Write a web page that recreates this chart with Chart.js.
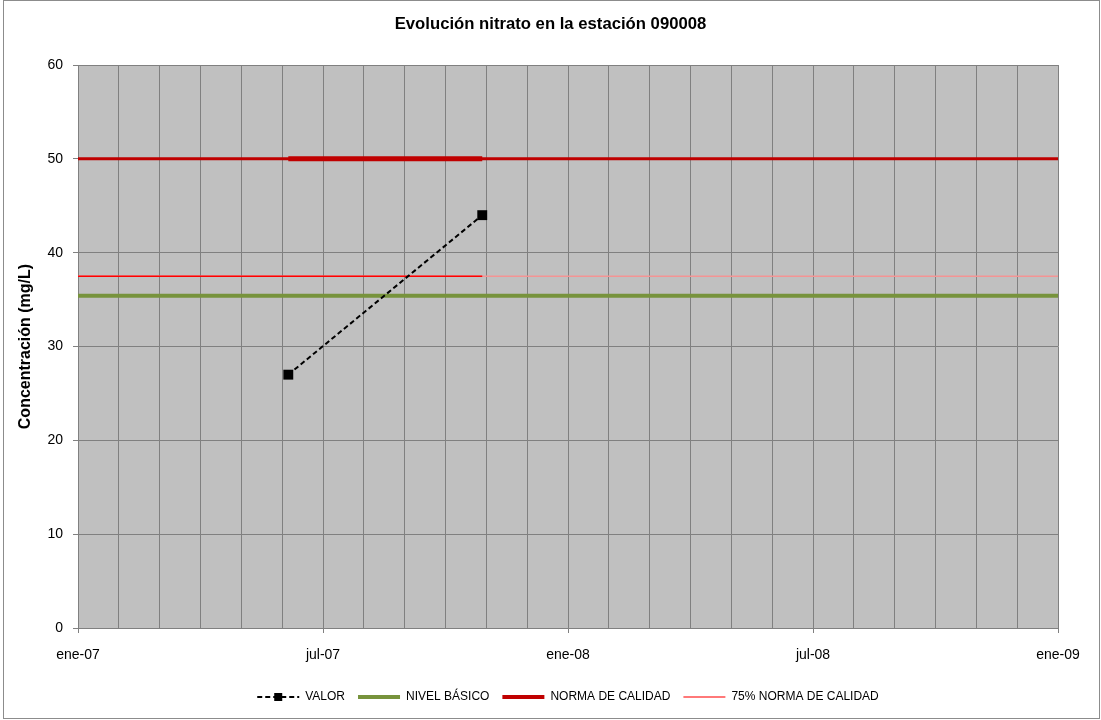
<!DOCTYPE html>
<html>
<head>
<meta charset="utf-8">
<script src="https://cdn.jsdelivr.net/npm/chart.js@4/dist/chart.umd.min.js"></script>
<style>
  html, body { margin: 0; padding: 0; background: #fff; }
  #wrap { width: 1101px; height: 720px; }
</style>
</head>
<body>
<div id="wrap"><canvas id="mychart" width="1101" height="720"></canvas></div>
<script>
// meses desde ene-07
var tickLabels = ['ene-07', 'jul-07', 'ene-08', 'jul-08', 'ene-09'];
var valorMonths = [5.15, 9.9];
var valorValues = [27, 44];
var spanMonths = [0, 24];
var nivelBasico = [35.4, 35.4];
var norma = [50, 50];
var norma75 = [37.5, 37.5];
var norma75Bright = [0, 9.9];

var FONT = "'Liberation Sans', Arial, sans-serif";

function pts(xs, ys) {
	return xs.map(function (x, i) { return {x: x, y: ys[i]}; });
}

var bgPlugin = {
	id: 'bg',
	beforeDraw: function (chart) {
		var ctx = chart.ctx, a = chart.chartArea;
		ctx.save();
		ctx.fillStyle = '#fff';
		ctx.fillRect(0, 0, chart.width, chart.height);
		ctx.fillStyle = '#c0c0c0';
		ctx.fillRect(a.left, a.top, a.right - a.left, a.bottom - a.top);
		ctx.restore();
	},
	afterDraw: function (chart) {
		var ctx = chart.ctx;
		ctx.save();
		ctx.strokeStyle = '#8c8c8c';
		ctx.lineWidth = 1;
		ctx.strokeRect(3.5, 0.5, 1096, 718);
		// marcador cuadrado en la leyenda de VALOR
		var hb = chart.legend.legendHitBoxes[0];
		if (hb) {
			var cx = hb.left + 21, cy = hb.top + hb.height / 2;
			ctx.fillStyle = '#000';
			ctx.fillRect(cx - 4, cy - 4, 8, 8);
		}
		ctx.restore();
	}
};

new Chart(document.getElementById('mychart'), {
	type: 'line',
	plugins: [bgPlugin],
	data: {
		datasets: [
			{
				label: 'VALOR',
				data: pts(valorMonths, valorValues),
				borderColor: '#000',
				backgroundColor: '#000',
				borderWidth: 2,
				borderDash: [5, 3],
				pointStyle: 'rect',
				pointRadius: 7,
				pointBackgroundColor: '#000',
				pointBorderWidth: 0
			},
			{
				label: 'NORMA DE CALIDAD',
				data: pts(valorMonths, norma),
				borderColor: '#c00000',
				borderWidth: 5,
				pointRadius: 0
			},
			{
				label: '75% NORMA DE CALIDAD',
				data: pts(norma75Bright, norma75),
				borderColor: '#ff0000',
				borderWidth: 1.5,
				pointRadius: 0
			},
			{
				label: 'NIVEL BÁSICO',
				data: pts(spanMonths, nivelBasico),
				borderColor: '#77933c',
				borderWidth: 4,
				pointRadius: 0
			},
			{
				label: 'NORMA DE CALIDAD',
				data: pts(spanMonths, norma),
				borderColor: '#c00000',
				borderWidth: 3,
				pointRadius: 0
			},
			{
				label: '75% NORMA DE CALIDAD',
				data: pts(spanMonths, norma75),
				borderColor: '#f49494',
				borderWidth: 1.5,
				pointRadius: 0
			}
		]
	},
	options: {
		responsive: false,
		animation: false,
		layout: { padding: { left: 43, right: 43, top: 0, bottom: 7 } },
		plugins: {
			tooltip: { enabled: false },
			title: {
				display: true,
				text: 'Evolución nitrato en la estación 090008',
				color: '#000',
				font: { family: FONT, size: 16.7, weight: 'bold' },
				padding: { top: 14.5, bottom: 30.5 }
			},
			legend: {
				display: true,
				position: 'bottom',
				fullSize: false,
				labels: {
					usePointStyle: true,
					pointStyleWidth: 42,
					boxHeight: 12,
					padding: 13,
					color: '#000',
					font: { family: FONT, size: 12 },
					generateLabels: function (chart) {
						return [
							{ text: 'VALOR', strokeStyle: '#000', fillStyle: '#000', lineWidth: 2, lineDash: [5, 3], pointStyle: 'line', datasetIndex: 0 },
							{ text: 'NIVEL BÁSICO', strokeStyle: '#77933c', fillStyle: '#77933c', lineWidth: 4, pointStyle: 'line', datasetIndex: 3 },
							{ text: 'NORMA DE CALIDAD', strokeStyle: '#c00000', fillStyle: '#c00000', lineWidth: 4, pointStyle: 'line', datasetIndex: 4 },
							{ text: '75% NORMA DE CALIDAD', strokeStyle: '#ff4d4d', fillStyle: '#ff4d4d', lineWidth: 1.5, pointStyle: 'line', datasetIndex: 5 }
						];
					}
				}
			}
		},
		scales: {
			x: {
				type: 'linear',
				min: 0,
				max: 24,
				afterFit: function (s) { s.height = 50; },
				ticks: {
					stepSize: 1,
					autoSkip: false,
					maxRotation: 0,
					padding: 14,
					color: '#000',
					font: { family: FONT, size: 14 },
					callback: function (v) { return v % 6 === 0 ? tickLabels[v / 6] : ''; }
				},
				grid: {
					color: '#808080',
					lineWidth: 1,
					tickLength: 5,
					tickColor: function (c) { return c.tick && c.tick.value % 6 === 0 ? '#808080' : 'rgba(0,0,0,0)'; }
				},
				border: { color: '#808080', width: 1 }
			},
			y: {
				min: 0,
				max: 60,
				afterFit: function (s) { s.width = 35; },
				ticks: {
					stepSize: 10,
					padding: 10,
					color: '#000',
					font: { family: FONT, size: 14 }
				},
				grid: { color: '#808080', lineWidth: 1, tickLength: 5, tickColor: '#808080' },
				border: { color: '#808080', width: 1 },
				title: {
					display: true,
					text: 'Concentración (mg/L)',
					color: '#000',
					font: { family: FONT, size: 16, weight: 'bold' },
					padding: { top: -26.6, bottom: 0 }
				}
			}
		}
	}
});
</script>
</body>
</html>
